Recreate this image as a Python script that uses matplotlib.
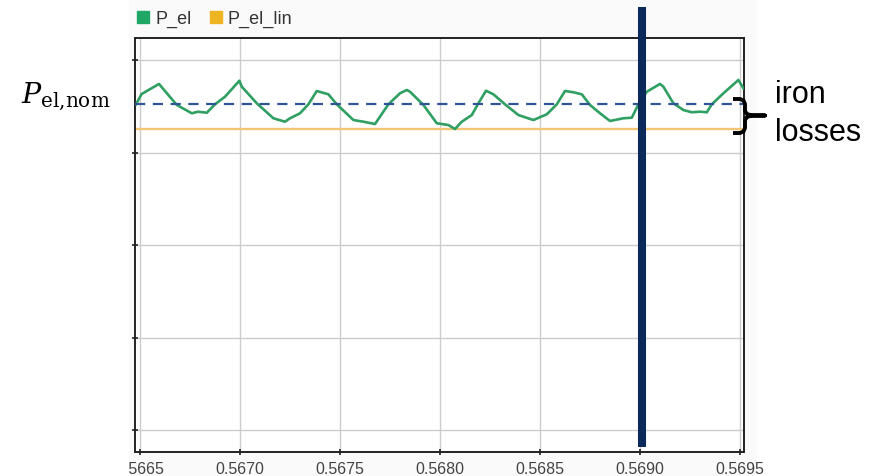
import numpy as np
import matplotlib
matplotlib.use('Agg')
import matplotlib.pyplot as plt
from matplotlib.lines import Line2D
from matplotlib.patches import Rectangle
from matplotlib.transforms import Bbox, TransformedBbox

plt.rcParams['font.family'] = ['Liberation Sans', 'DejaVu Sans']
plt.rcParams['mathtext.fontset'] = 'dejavuserif'

# %% data (time in s, power in grid units)
t_el = [0.56648, 0.566508, 0.566595, 0.566684, 0.566759, 0.56679, 0.566834,
        0.566875, 0.566925, 0.566997, 0.567009, 0.567084, 0.567167, 0.567225,
        0.56725, 0.5673, 0.567342, 0.567384, 0.567442, 0.567484, 0.567567,
        0.567617, 0.567675, 0.567742, 0.5678, 0.567834, 0.56785, 0.567917,
        0.567984, 0.568042, 0.568075, 0.568109, 0.568159, 0.568192, 0.56823,
        0.568267, 0.568325, 0.568392, 0.568467, 0.568534, 0.568584, 0.568625,
        0.568667, 0.568709, 0.56875, 0.5688, 0.56885, 0.568917, 0.568959,
        0.568992, 0.569034, 0.5691, 0.569117, 0.569167, 0.569217, 0.569259,
        0.5693, 0.569334, 0.569359, 0.569417, 0.569492, 0.569517]
p_el = [3.521, 3.632, 3.741, 3.514, 3.424, 3.441, 3.430, 3.521, 3.603, 3.776,
        3.711, 3.532, 3.370, 3.333, 3.370, 3.424, 3.521, 3.665, 3.629, 3.521,
        3.351, 3.333, 3.308, 3.521, 3.640, 3.676, 3.657, 3.514, 3.316, 3.297,
        3.254, 3.333, 3.405, 3.532, 3.668, 3.629, 3.521, 3.405, 3.351, 3.413,
        3.521, 3.665, 3.651, 3.629, 3.514, 3.424, 3.341, 3.370, 3.376, 3.521,
        3.657, 3.741, 3.711, 3.532, 3.459, 3.435, 3.441, 3.435, 3.521, 3.640,
        3.784, 3.695]
p_el_nom = 3.52
p_el_lin = 3.254
t_cursor = 0.56901

t_ticks = [0.5665, 0.5670, 0.5675, 0.5680, 0.5685, 0.5690, 0.5695]
t_labels = ['0.5665', '0.5670', '0.5675', '0.5680', '0.5685', '0.5690', '0.5695']
y_ticks = [0, 1, 2, 3, 4]

# %% figure
W, H = 887, 476
fig = plt.figure(figsize=(W / 100, H / 100), dpi=100)
fig.patch.set_facecolor('white')

# light grey panel of the screenshot
panel = Rectangle((129 / W, 0), (757 - 129) / W, 1, transform=fig.transFigure,
                  facecolor='#fafafa', edgecolor='none', zorder=-1)
fig.add_artist(panel)

ax = fig.add_axes([135 / W, 1 - 451.5 / H, (744 - 135) / W, (451.5 - 37.7) / H])
ax.set_facecolor('white')

ax.plot(t_el, p_el, color='#2f9f62', lw=1.9, zorder=3, solid_joinstyle='round')
ax.axhline(p_el_lin, color='#f2c474', lw=1.7, zorder=2)
ax.axhline(p_el_nom, color='#2f5597', lw=1.6, dashes=(4.6, 3.4), zorder=4)
ax.axvline(t_cursor, ymin=0.012, ymax=1.074, color='#0b2a5b', lw=5.8,
           solid_capstyle='butt', clip_on=False, zorder=5)

ax.set_xlim(0.566475, 0.56952)
ax.set_ylim(-0.232, 4.241)
ax.set_xticks(t_ticks)
ax.set_xticklabels(t_labels)
ax.set_yticks(y_ticks)
ax.set_yticklabels([])
ax.grid(True, color='#cccccc', lw=1.0)
ax.set_axisbelow(True)
for s in ax.spines.values():
    s.set_color('#222222')
    s.set_linewidth(1.4)
ax.tick_params(axis='both', direction='inout', length=5, width=1.2,
               color='#222222')
ax.tick_params(axis='x', labelsize=11.5, labelcolor='#444444', pad=5)

# first tick label is cut by the panel edge on the left
clip = TransformedBbox(Bbox([[129 / W, 0], [1, 1]]), fig.transFigure)
for lbl in ax.get_xticklabels():
    lbl.set_clip_on(True)
    lbl.set_clip_box(clip)

# legend
handles = [Line2D([], [], marker='s', ls='none', ms=8.5, color='#1fa865'),
           Line2D([], [], marker='s', ls='none', ms=8.5, color='#efb422')]
fig.legend(handles, ['P_el', 'P_el_lin'], loc='center left',
           bbox_to_anchor=(137.5 / W, 1 - 19 / H), ncol=2, frameon=False,
           fontsize=13, handlelength=0.65, handletextpad=0.35,
           columnspacing=1.0, borderpad=0, borderaxespad=0,
           labelcolor='#333333')

# %% annotations in pixel coordinates
ov = fig.add_axes([0, 0, 1, 1])
ov.set_xlim(0, W)
ov.set_ylim(H, 0)
ov.axis('off')
ov.set_zorder(10)

bx = [733, 740, 743.5, 745, 745, 747, 752, 765, 752, 747, 745, 745, 743.5, 740, 733]
by = [99, 99, 100.5, 104, 111, 114, 115.5, 115.5, 115.5, 117, 120, 128, 131.5, 133, 133]
ov.plot(bx, by, color='black', lw=2.8, solid_joinstyle='round',
        solid_capstyle='butt')
ov.text(775, 102.7, 'iron', fontsize=22, ha='left', va='baseline')
ov.text(775, 141, 'losses', fontsize=22, ha='left', va='baseline')
ov.text(21, 103, r'$P_{\mathrm{el{,}nom}}$', fontsize=20.5, ha='left',
        va='baseline')

fig.savefig('out.png', dpi=100)
